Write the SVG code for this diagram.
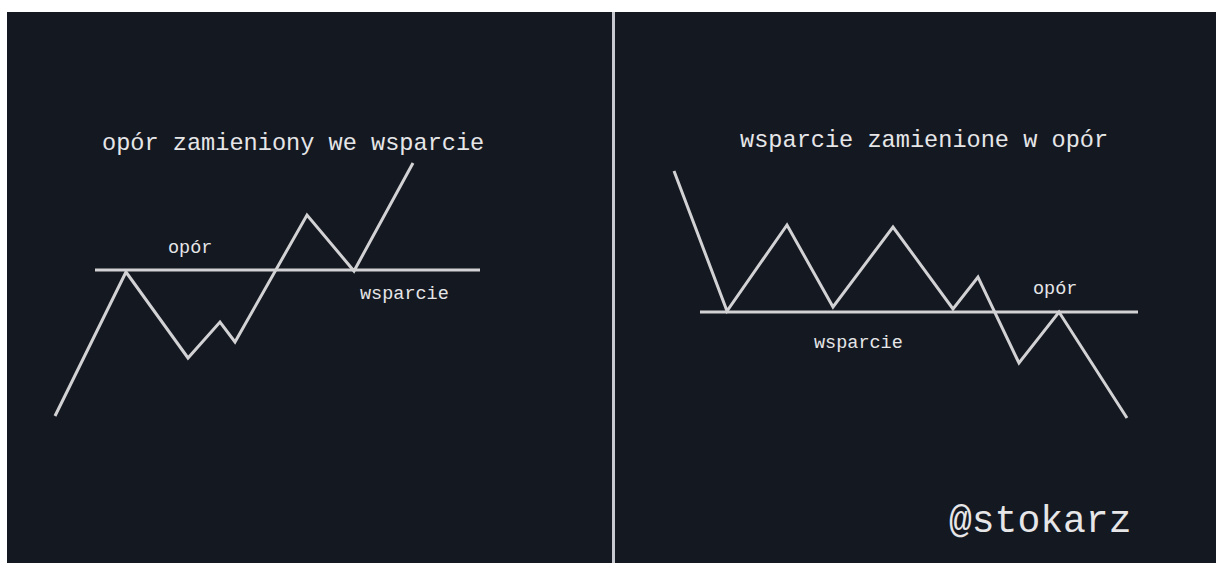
<svg xmlns="http://www.w3.org/2000/svg" width="1216" height="563" viewBox="0 0 1216 563">
<style>
.ln{fill:none;stroke:#d2d2d4;stroke-width:3;stroke-linejoin:miter;stroke-linecap:butt}
.t{font-family:"Liberation Mono","Courier New",monospace;fill:#e6e6e8}
.title{font-size:23.6px}
.lbl{font-size:18.5px}
</style>
<rect x="0" y="0" width="1216" height="563" fill="#ffffff"/>
<rect x="7" y="12" width="1209" height="551" fill="#141821"/>
<rect x="612" y="12" width="3" height="551" fill="#c8c8d0"/>
<g id="left-chart">
<g id="left-title"><text class="t title" x="102" y="150">opór zamieniony we wsparcie</text></g>
<g id="left-level"><line class="ln" x1="95" y1="270" x2="480" y2="270"/></g>
<g id="left-price"><polyline class="ln" points="55,416 126,272 188,358 220,322 235,342 307,215 354,271 413,163"/></g>
<g id="left-label-opor"><text class="t lbl" x="168" y="253">opór</text></g>
<g id="left-label-wsparcie"><text class="t lbl" x="360" y="299">wsparcie</text></g>
</g>
<g id="right-chart">
<g id="right-title"><text class="t title" x="740" y="147">wsparcie zamienione w opór</text></g>
<g id="right-level"><line class="ln" x1="700" y1="312" x2="1138" y2="312"/></g>
<g id="right-price"><polyline class="ln" points="674,171 727,311 787,225 833,307 893,227 953,309 978,277 1019,363 1059,312 1127,418"/></g>
<g id="right-label-opor"><text class="t lbl" x="1033" y="294">opór</text></g>
<g id="right-label-wsparcie"><text class="t lbl" x="814" y="348">wsparcie</text></g>
</g>
<g id="watermark"><text class="t" x="949" y="532" font-size="38">@stokarz</text></g>
</svg>
